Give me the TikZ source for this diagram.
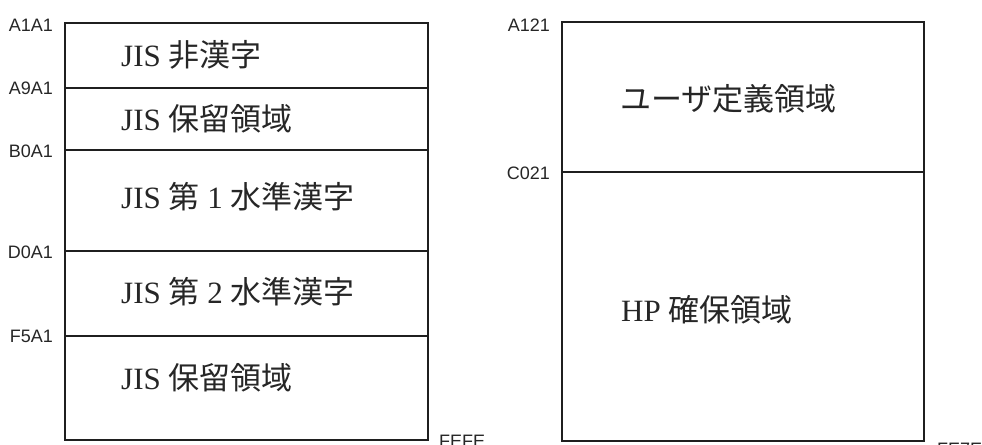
\documentclass[tikz,border=0pt]{standalone}
\usepackage{fontspec}
\setmainfont{Liberation Serif}
\newfontfamily\jp{Noto Sans CJK JP}
\newfontfamily\lab{Liberation Sans}
\begin{document}
\begin{tikzpicture}[x=1bp,y=-1bp,
  boxline/.style={line width=2.4bp,draw=black!88},
  addr/.style={font=\lab\fontsize{18bp}{20bp}\selectfont,text=black!85,inner sep=0pt},
  region/.style={font=\fontsize{31bp}{34bp}\selectfont,text=black!85,inner sep=0pt,anchor=west}]
\useasboundingbox (0,0) rectangle (982,445);
% left box
\draw[boxline] (65,23) rectangle (428,440);
\coordinate (l1a) at (65,88);  \coordinate (l1b) at (428,88);
\coordinate (l2a) at (65,150); \coordinate (l2b) at (428,150);
\coordinate (l3a) at (65,251); \coordinate (l3b) at (428,251);
\coordinate (l4a) at (65,336); \coordinate (l4b) at (428,336);
\draw[boxline] (l1a) -- (l1b);
\draw[boxline] (l2a) -- (l2b);
\draw[boxline] (l3a) -- (l3b);
\draw[boxline] (l4a) -- (l4b);
\node[addr,anchor=east] (aA1A1) at (53,25) {A1A1};
\node[addr,anchor=east] (aA9A1) at (53,88) {A9A1};
\node[addr,anchor=east] (aB0A1) at (53,151) {B0A1};
\node[addr,anchor=east] (aD0A1) at (53,252) {D0A1};
\node[addr,anchor=east] (aF5A1) at (53,336) {F5A1};
\node[addr,anchor=base west] (aFEFE) at (439,447) {FEFE};
\node[region] (r1) at (121,55) {JIS {\jp 非漢字}};
\node[region] (r2) at (121,119) {JIS {\jp 保留領域}};
\node[region] (r3) at (121,197) {JIS {\jp 第} 1 {\jp 水準漢字}};
\node[region] (r4) at (121,292) {JIS {\jp 第} 2 {\jp 水準漢字}};
\node[region] (r5) at (121,378) {JIS {\jp 保留領域}};
% right box
\draw[boxline] (562,22) rectangle (924,441);
\coordinate (r1a) at (562,172); \coordinate (r1b) at (924,172);
\draw[boxline] (r1a) -- (r1b);
\node[addr,anchor=east] (aA121) at (550,25) {A121};
\node[addr,anchor=east] (aC021) at (550,173) {C021};
\node[addr,anchor=base west] (aFE7E) at (937,455) {FE7E};
\node[region] (u1) at (620,99) {{\jp ユーザ定義領域}};
\node[region] (u2) at (621,310) {HP {\jp 確保領域}};
\end{tikzpicture}
\end{document}
